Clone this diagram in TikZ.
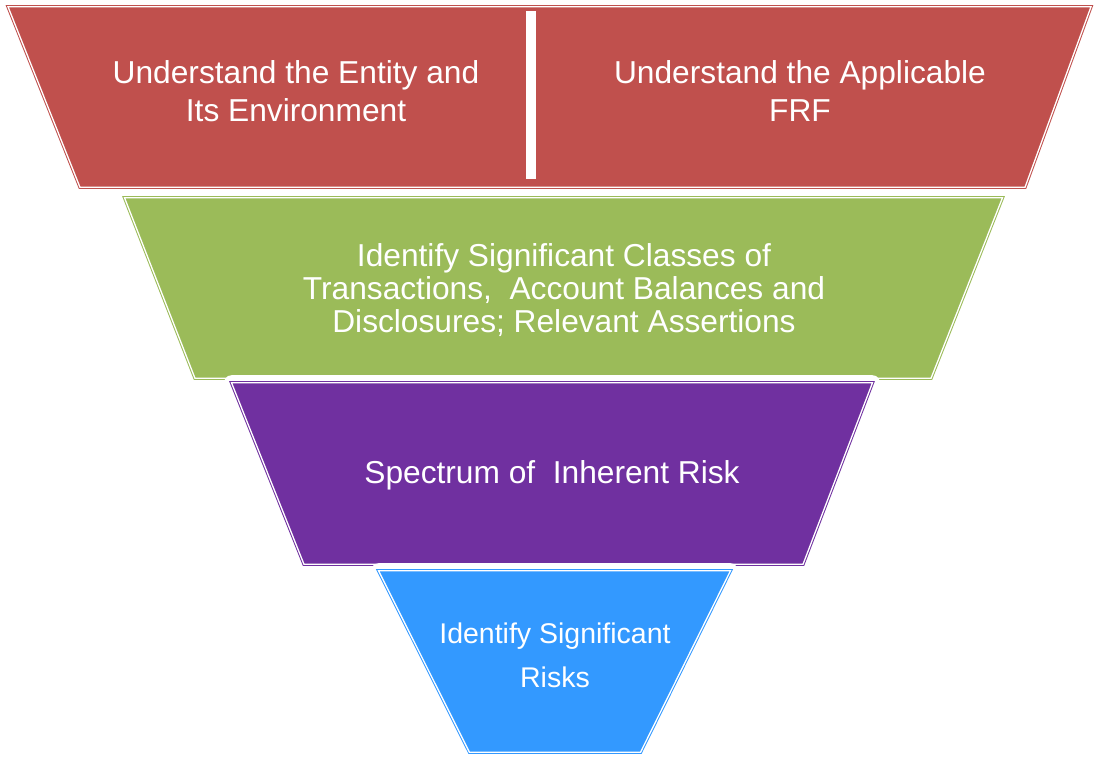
\documentclass[tikz,border=0pt]{standalone}
\usepackage{fontspec}
\setmainfont{Liberation Sans}
\definecolor{redd}{HTML}{C0504D}
\definecolor{greend}{HTML}{9BBB59}
\definecolor{purpled}{HTML}{7030A0}
\definecolor{blued}{HTML}{3399FF}
\begin{document}
\begin{tikzpicture}[x=1pt,y=-1pt,
    halo/.style={draw=white, line width=15pt, line join=round},
    stage/.style={fill=#1, draw=#1, double=white, double distance=1.3pt, line width=1pt},
    stagetext/.style 2 args={text=white, align=center, inner sep=0pt, font=\fontsize{#1}{#2}\selectfont}]
            \useasboundingbox (0,0) rectangle (1095,756);
            % red band
            \draw[stage=redd] (8,6.7) -- (1091,6.7) -- (1025,187.3) -- (80,187.3) -- cycle;
            \fill[white] (526,11) rectangle (536,179);
            % green band
            \draw[halo] (124.5,197.7) -- (1002.5,197.7) -- (931,378.3) -- (195,378.3) -- cycle;
            \draw[stage=greend] (124.5,197.7) -- (1002.5,197.7) -- (931,378.3) -- (195,378.3) -- cycle;
            % purple band
            \draw[halo] (231.5,382.7) -- (872.5,382.7) -- (803,564.3) -- (304,564.3) -- cycle;
            \draw[stage=purpled] (231.5,382.7) -- (872.5,382.7) -- (803,564.3) -- (304,564.3) -- cycle;
            % blue band
            \draw[halo] (378.5,570.7) -- (730.5,570.7) -- (640.5,752.3) -- (469.5,752.3) -- cycle;
            \draw[stage=blued] (378.5,570.7) -- (730.5,570.7) -- (640.5,752.3) -- (469.5,752.3) -- cycle;
            \node[stagetext={31.7}{38}] (entity) at (296,91) {Understand the Entity and\\Its Environment};
            \node[stagetext={31.7}{38}] (frf) at (800,91) {Understand the Applicable\\FRF};
            \node[stagetext={31.7}{33}] (classes) at (564,290) {Identify Significant Classes of\\Transactions,\ \ Account Balances and\\Disclosures; Relevant Assertions};
            \node[stagetext={31.7}{33}] (spectrum) at (552,475) {Spectrum of\ \ Inherent Risk};
            \node[stagetext={28.5}{44}] (sigrisks) at (555,655) {Identify Significant\\Risks};
        \end{tikzpicture}
\end{document}
